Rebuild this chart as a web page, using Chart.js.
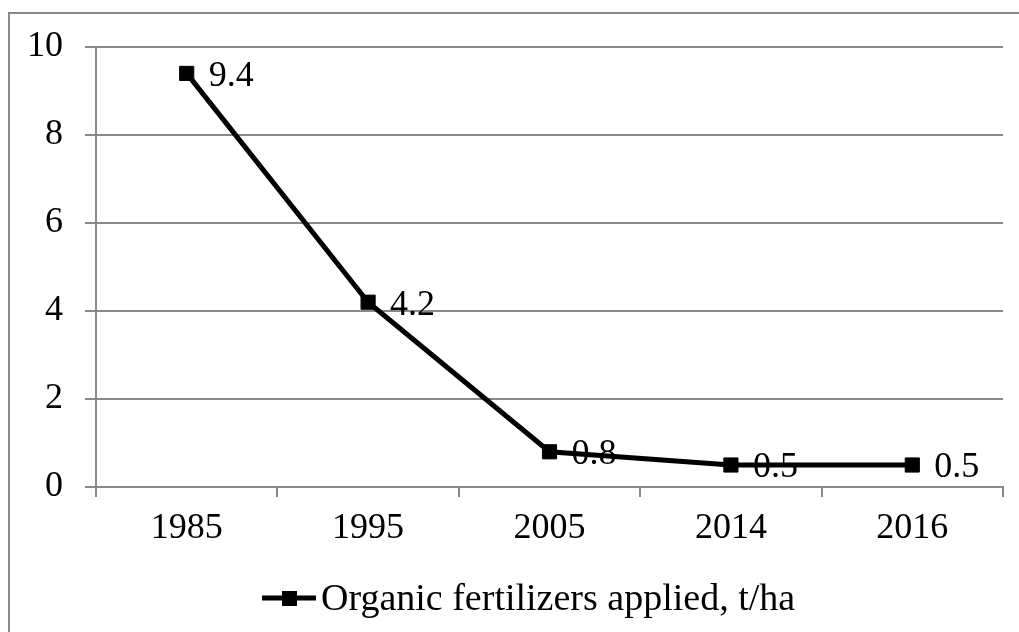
<!DOCTYPE html>
<html>
<head>
<meta charset="utf-8">
<script src="https://cdn.jsdelivr.net/npm/chart.js@4"></script>
<style>
  html, body { margin: 0; padding: 0; background: #fff; }
  #wrap { width: 1019px; height: 632px; }
</style>
</head>
<body>
<div id="wrap"><canvas id="chart"></canvas></div>
<script>
// data
const years = ['1985', '1995', '2005', '2014', '2016'];
const fertilizer = [9.4, 4.2, 0.8, 0.5, 0.5];
const seriesName = 'Organic fertilizers applied, t/ha';

const gray = '#898989';
const fontFamily = '"Liberation Serif", "Times New Roman", serif';

// labels to the right of every point
const valueLabels = {
  id: 'valueLabels',
  afterDatasetsDraw(chart) {
    const ctx = chart.ctx;
    const meta = chart.getDatasetMeta(0);
    ctx.save();
    ctx.font = '36px ' + fontFamily;
    ctx.fillStyle = '#000';
    ctx.textAlign = 'left';
    ctx.textBaseline = 'middle';
    meta.data.forEach((pt, i) => {
      ctx.fillText(String(fertilizer[i]), pt.x + 22, pt.y + 3);
    });
    ctx.restore();
  }
};

// frame + legend like the original
const frameAndLegend = {
  id: 'frameAndLegend',
  afterDraw(chart) {
    const ctx = chart.ctx;
    ctx.save();
    ctx.strokeStyle = gray;
    ctx.lineWidth = 2;
    ctx.beginPath();
    ctx.moveTo(9, 632);
    ctx.lineTo(9, 13);
    ctx.lineTo(1019, 13);
    ctx.stroke();

    // legend
    const ly = 598;
    ctx.strokeStyle = '#000';
    ctx.lineWidth = 5;
    ctx.beginPath();
    ctx.moveTo(262, ly);
    ctx.lineTo(316, ly);
    ctx.stroke();
    ctx.fillStyle = '#000';
    ctx.fillRect(282, ly - 7, 15, 15);
    ctx.font = '38px ' + fontFamily;
    ctx.textAlign = 'left';
    ctx.textBaseline = 'middle';
    ctx.fillText(seriesName, 321, ly + 2);
    ctx.restore();
  }
};

new Chart(document.getElementById('chart'), {
  type: 'line',
  data: {
    labels: years,
    datasets: [{
      label: seriesName,
      data: fertilizer,
      borderColor: '#000',
      borderWidth: 5,
      tension: 0,
      fill: false,
      pointStyle: 'rect',
      pointRadius: 10,
      pointBackgroundColor: '#000',
      pointBorderColor: '#000',
      pointBorderWidth: 1
    }]
  },
  options: {
    responsive: true,
    maintainAspectRatio: false,
    animation: false,
    layout: { padding: { left: 0, right: 16, top: 47, bottom: 75 } },
    plugins: {
      legend: { display: false },
      tooltip: { enabled: false }
    },
    scales: {
      x: {
        offset: true,
        grid: {
          offset: true,
          drawOnChartArea: false,
          drawTicks: true,
          tickLength: 10,
          color: gray,
          lineWidth: 2
        },
        border: { color: gray, width: 2 },
        ticks: {
          color: '#000',
          font: { family: fontFamily, size: 36 },
          padding: 10,
          maxRotation: 0
        },
        afterFit(scale) { scale.height = 70; }
      },
      y: {
        min: 0,
        max: 10,
        ticks: {
          stepSize: 2,
          color: '#000',
          font: { family: fontFamily, size: 36 },
          padding: 22
        },
        grid: {
          color: gray,
          lineWidth: 2,
          tickLength: 11
        },
        border: { color: gray, width: 2 },
        afterFit(scale) { scale.width = 96; }
      }
    }
  },
  plugins: [valueLabels, frameAndLegend]
});
</script>
</body>
</html>
